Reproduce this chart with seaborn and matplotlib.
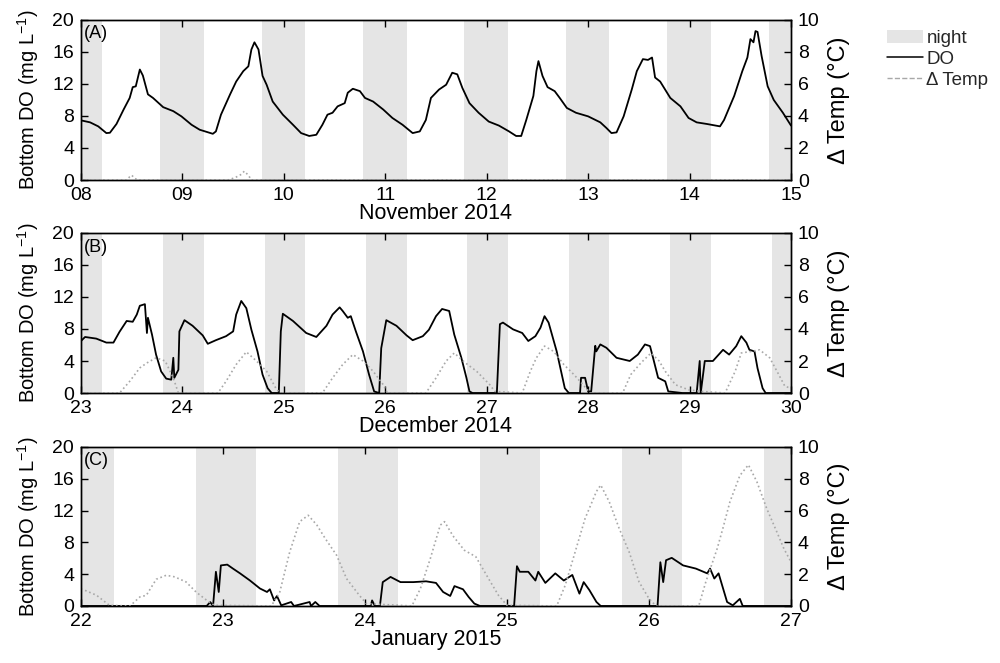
import matplotlib
matplotlib.use("Agg")
import matplotlib.pyplot as plt
import seaborn as sns
from matplotlib.patches import Patch
from matplotlib.lines import Line2D

# ---------------------------------------------------------------------------
# Data
# ---------------------------------------------------------------------------
# Panel A: November 2014
nov_t = [8.00, 8.09, 8.17, 8.25, 8.285, 8.35, 8.42, 8.48, 8.51, 8.54,
         8.58, 8.61, 8.66, 8.71, 8.81, 8.91, 8.99, 9.09, 9.17, 9.30,
         9.33, 9.38, 9.47, 9.53, 9.60, 9.65, 9.68, 9.71, 9.75, 9.79,
         9.83, 9.89, 9.99, 10.09, 10.17, 10.25, 10.32, 10.38, 10.43, 10.48,
         10.53, 10.60, 10.63, 10.68, 10.75, 10.80, 10.88, 10.98, 11.07, 11.17,
         11.27, 11.34, 11.40, 11.45, 11.53, 11.60, 11.66, 11.71, 11.76, 11.83,
         11.92, 12.02, 12.12, 12.22, 12.29, 12.34, 12.39, 12.46, 12.49, 12.51,
         12.55, 12.60, 12.67, 12.72, 12.79, 12.88, 13.00, 13.12, 13.18, 13.23,
         13.28, 13.35, 13.43, 13.48, 13.54, 13.59, 13.63, 13.66, 13.71, 13.81,
         13.91, 13.99, 14.07, 14.17, 14.30, 14.34, 14.44, 14.52, 14.57, 14.60,
         14.63, 14.65, 14.67, 14.71, 14.77, 14.83, 14.92, 15.00]
nov_do = [7.45, 7.2, 6.7, 5.86, 5.9, 7.0, 8.8, 10.25, 11.6, 11.7,
          13.8, 13.05, 10.7, 10.25, 9.1, 8.6, 7.95, 6.9, 6.28, 5.77,
          6.07, 8.16, 10.7, 12.3, 13.6, 14.2, 16.3, 17.2, 16.3, 13.0,
          11.9, 9.8, 8.16, 6.9, 5.86, 5.5, 5.65, 6.9, 8.16, 8.4,
          9.2, 9.6, 10.9, 11.4, 11.1, 10.25, 9.8, 8.8, 7.75, 6.9,
          5.86, 6.07, 7.5, 10.25, 11.3, 11.9, 13.4, 13.2, 11.5, 9.6,
          8.4, 7.3, 6.8, 6.07, 5.5, 5.5, 7.5, 10.5, 13.6, 14.85,
          13.0, 11.6, 11.1, 10.25, 9.0, 8.4, 7.95, 7.2, 6.5, 5.86,
          5.95, 7.95, 11.3, 13.6, 15.1, 15.0, 15.3, 12.8, 12.3, 10.25,
          9.2, 7.75, 7.2, 7.0, 6.7, 7.5, 10.5, 13.6, 15.3, 17.6,
          17.2, 18.6, 18.5, 15.5, 11.7, 10.0, 8.4, 6.8]
nov_dt_t = [8.00, 8.45, 8.48, 8.50, 8.53, 8.56, 9.45, 9.52, 9.58, 9.61,
            9.65, 9.68, 15.00]
nov_dt = [0, 0, 0.2, 0.3, 0.1, 0, 0, 0.15, 0.35, 0.55,
          0.3, 0, 0]

# Panel B: December 2014
dec_t = [23.00, 23.04, 23.15, 23.25, 23.32, 23.38, 23.45, 23.51, 23.55, 23.58,
         23.63, 23.65, 23.66, 23.70, 23.74, 23.79, 23.84, 23.89, 23.91, 23.92,
         23.96, 23.97, 24.02, 24.10, 24.20, 24.25, 24.33, 24.43, 24.50, 24.53,
         24.58, 24.63, 24.68, 24.74, 24.79, 24.84, 24.88, 24.95, 24.97, 24.99,
         25.09, 25.22, 25.32, 25.42, 25.48, 25.55, 25.58, 25.63, 25.66, 25.71,
         25.78, 25.84, 25.89, 25.94, 25.96, 26.01, 26.11, 26.21, 26.27, 26.37,
         26.43, 26.50, 26.56, 26.63, 26.68, 26.75, 26.80, 26.83, 26.86, 27.10,
         27.13, 27.16, 27.26, 27.35, 27.41, 27.48, 27.53, 27.57, 27.61, 27.69,
         27.77, 27.81, 27.92, 27.93, 27.97, 28.00, 28.03, 28.07, 28.08, 28.12,
         28.18, 28.28, 28.41, 28.49, 28.56, 28.61, 28.64, 28.69, 28.76, 28.79,
         28.93, 29.07, 29.10, 29.11, 29.15, 29.23, 29.33, 29.39, 29.46, 29.51,
         29.56, 29.59, 29.64, 29.67, 29.72, 29.75, 30.00]
dec_do = [6.5, 7.0, 6.8, 6.3, 6.3, 7.65, 9.0, 8.9, 9.8, 10.9,
          11.1, 7.5, 9.4, 7.3, 4.8, 2.7, 1.8, 1.67, 4.4, 1.9,
          2.9, 7.7, 9.1, 8.4, 7.2, 6.15, 6.6, 7.1, 7.7, 9.8,
          11.5, 10.6, 7.9, 5.2, 2.3, 0.6, 0.0, 0.0, 7.7, 9.9,
          9.0, 7.5, 7.0, 8.4, 9.8, 10.7, 10.25, 9.4, 9.6, 7.7,
          5.2, 2.3, 0.2, 0.0, 5.6, 9.1, 8.4, 7.2, 6.6, 7.1,
          7.9, 9.6, 10.5, 10.25, 7.3, 4.4, 1.9, 0.2, 0.0, 0.0,
          8.6, 8.8, 7.95, 7.5, 6.5, 7.1, 8.16, 9.6, 8.8, 5.2,
          0.6, 0.0, 0.0, 1.9, 1.9, 0.2, 0.2, 5.9, 5.2, 6.07,
          5.65, 4.4, 4.0, 4.8, 6.07, 5.86, 4.4, 1.9, 1.46, 0.2,
          0.0, 0.0, 4.0, 0.0, 4.0, 4.0, 5.4, 4.8, 5.86, 7.1,
          6.3, 5.4, 5.2, 3.1, 0.6, 0.0, 0.0]
dec_dt_t = [23.00, 23.38, 23.48, 23.58, 23.65, 23.74, 23.83, 23.91, 23.96, 24.35,
            24.43, 24.53, 24.63, 24.73, 24.83, 24.92, 24.96, 25.38, 25.48, 25.58,
            25.68, 25.78, 25.88, 25.98, 26.02, 26.40, 26.50, 26.60, 26.68, 26.79,
            26.90, 27.03, 27.08, 27.35, 27.43, 27.49, 27.57, 27.66, 27.76, 27.86,
            27.95, 28.02, 28.34, 28.42, 28.52, 28.62, 28.70, 28.76, 28.86, 28.99,
            29.12, 29.35, 29.45, 29.51, 29.61, 29.69, 29.79, 29.87, 29.94, 30.00]
dec_dt = [0, 0, 0.73, 1.57, 1.88, 2.2, 2.0, 0.94, 0, 0,
          0.73, 1.78, 2.57, 2.0, 1.36, 0.31, 0, 0, 0.94, 1.78,
          2.4, 2.0, 1.36, 0.52, 0, 0, 0.94, 2.0, 2.5, 1.88,
          1.36, 0.52, 0.1, 0, 1.36, 2.2, 2.93, 2.6, 1.78, 1.15,
          0.52, 0, 0, 1.15, 1.88, 2.5, 2.0, 1.36, 0.52, 0.2,
          0.1, 0, 1.36, 2.5, 2.6, 2.7, 2.2, 1.26, 0.42, 0.3]

# Panel C: January 2015
jan_t = [22.00, 22.885, 22.91, 22.93, 22.95, 22.97, 22.985, 23.03, 23.07, 23.12,
         23.19, 23.26, 23.31, 23.33, 23.36, 23.38, 23.41, 23.48, 23.50, 23.61,
         23.62, 23.65, 23.68, 24.04, 24.05, 24.07, 24.105, 24.125, 24.18, 24.25,
         24.34, 24.43, 24.50, 24.55, 24.60, 24.63, 24.69, 24.73, 24.77, 24.81,
         25.05, 25.07, 25.09, 25.15, 25.20, 25.22, 25.27, 25.34, 25.40, 25.46,
         25.51, 25.54, 25.58, 25.63, 25.66, 26.06, 26.08, 26.10, 26.12, 26.16,
         26.24, 26.33, 26.41, 26.43, 26.46, 26.49, 26.55, 26.59, 26.64, 26.66, 27.00]
jan_do = [0, 0, 0.5, 0, 4.3, 1.76, 5.1, 5.2, 4.7, 4.1,
          3.2, 2.2, 1.76, 2.1, 0.7, 1.26, 0.08, 0.5, 0, 0.5,
          0, 0.5, 0, 0, 0.7, 0, 0, 3.0, 3.65, 3.0,
          3.0, 3.1, 2.9, 1.76, 1.26, 2.5, 2.1, 1.13, 0.3, 0,
          0, 5.0, 4.3, 4.3, 3.2, 4.3, 2.9, 4.1, 3.2, 3.9,
          1.55, 3.0, 2.0, 0.5, 0, 0, 5.5, 3.0, 5.75, 6.05,
          5.1, 4.7, 4.1, 4.7, 3.45, 4.1, 0.5, 0.08, 0.9, 0, 0]
jan_dt_t = [22.00, 22.11, 22.20, 22.345, 22.415, 22.46, 22.53, 22.60, 22.66, 22.74,
            22.81, 22.885, 22.94, 23.34, 23.40, 23.47, 23.54, 23.60, 23.66, 23.72,
            23.80, 23.87, 23.96, 24.01, 24.33, 24.39, 24.46, 24.53, 24.56, 24.62,
            24.70, 24.78, 24.87, 24.94, 25.00, 25.35, 25.41, 25.48, 25.55, 25.63,
            25.66, 25.72, 25.79, 25.86, 25.93, 26.00, 26.05, 26.35, 26.40, 26.48,
            26.52, 26.57, 26.64, 26.70, 26.76, 26.83, 26.90, 26.95, 27.00]
jan_dt = [1.09, 0.67, 0.04, 0, 0.57, 0.67, 1.68, 1.93, 1.83, 1.51,
          0.88, 0.36, 0.04, 0, 0.88, 3.4, 5.3, 5.7, 5.1, 4.24,
          3.19, 1.72, 0.67, 0.15, 0, 1.09, 2.98, 5.08, 5.3, 4.4,
          3.5, 3.1, 1.72, 0.67, 0.04, 0, 1.3, 3.4, 5.5, 7.2,
          7.6, 6.55, 4.87, 3.4, 1.51, 0.46, 0, 0, 1.51, 3.6,
          4.87, 6.55, 8.2, 8.87, 7.8, 6.1, 4.66, 3.6, 2.77]

panel_tags = ["(A)", "(B)", "(C)"]
month_labels = ["November 2014", "December 2014", "January 2015"]
day_ranges = [(8, 15), (23, 30), (22, 27)]
# night = sunset fraction of day .. sunrise fraction of next day
night_fracs = [(0.78, 0.21), (0.81, 0.21), (0.81, 0.23)]

NIGHT_COLOR = "#e5e5e5"
TEMP_COLOR = "#a8a8a8"

# ---------------------------------------------------------------------------
# Plotting
# ---------------------------------------------------------------------------
sns.set_theme(style="white")
plt.rcParams["font.family"] = ["Liberation Sans", "DejaVu Sans"]
plt.rcParams["mathtext.fontset"] = "custom"
plt.rcParams["mathtext.rm"] = "Liberation Sans"
plt.rcParams["mathtext.default"] = "regular"

fig = plt.figure(figsize=(10, 6.63), dpi=100)
boxes = [(0.081, 0.7285, 0.710, 0.2415),
         (0.081, 0.4072, 0.710, 0.2415),
         (0.081, 0.0860, 0.710, 0.2400)]

series = [(nov_t, nov_do, nov_dt_t, nov_dt),
          (dec_t, dec_do, dec_dt_t, dec_dt),
          (jan_t, jan_do, jan_dt_t, jan_dt)]

for box, (t, do, tt, dt), tag, month, (d0, d1), (sset, srise) in zip(
        boxes, series, panel_tags, month_labels, day_ranges, night_fracs):
    ax = fig.add_axes(box)
    ax2 = ax.twinx()

    for d in range(d0 - 1, d1 + 1):
        ax.axvspan(d + sset, d + 1 + srise, color=NIGHT_COLOR, lw=0, zorder=0)

    sns.lineplot(x=t, y=do, ax=ax, color="black", linewidth=1.3,
                 estimator=None, legend=False, zorder=3)
    sns.lineplot(x=tt, y=dt, ax=ax2, color=TEMP_COLOR, linewidth=1.2,
                 linestyle=":", estimator=None, legend=False)

    ax.set_xlim(d0, d1)
    ax.set_ylim(0, 20)
    ax2.set_ylim(0, 10)
    ax.set_yticks(range(0, 21, 4))
    ax2.set_yticks(range(0, 11, 2))
    ax.set_xticks(range(d0, d1 + 1))
    ax.set_xticklabels([f"{d:02d}" for d in range(d0, d1 + 1)])

    ax.tick_params(axis="x", direction="in", top=True, bottom=True,
                   length=5, width=1, labelsize=14, pad=5, colors="black")
    ax.tick_params(axis="y", direction="in", left=True, length=5, width=1,
                   labelsize=14, pad=5, colors="black")
    ax2.tick_params(axis="y", direction="in", right=True, length=5, width=1,
                    labelsize=14, pad=5, colors="black")
    for a in (ax, ax2):
        for s in a.spines.values():
            s.set_color("black")
            s.set_linewidth(1.0)

    ax.set_xlabel(month, fontsize=15.5, labelpad=-1, color="black")
    ax.set_ylabel("Bottom DO (mg L$^{-1}$)", fontsize=14.5, labelpad=8, color="black")
    ax2.set_ylabel("Δ Temp (°C)", fontsize=17, labelpad=6, color="black")
    ax.text(0.004, 0.965, tag, transform=ax.transAxes, ha="left", va="top",
            fontsize=13, color="black", zorder=5)

handles = [Patch(facecolor=NIGHT_COLOR, edgecolor="none", label="night"),
           Line2D([], [], color="black", linewidth=1.1, label="DO"),
           Line2D([], [], color=TEMP_COLOR, linewidth=1.0, linestyle="--", label="Δ Temp")]
fig.legend(handles=handles, loc="upper left", bbox_to_anchor=(0.887, 0.955),
           frameon=False, fontsize=13.5, handlelength=1.9, handletextpad=0.2,
           labelspacing=0.2, borderaxespad=0, borderpad=0)

fig.savefig("out.png", dpi=100)
